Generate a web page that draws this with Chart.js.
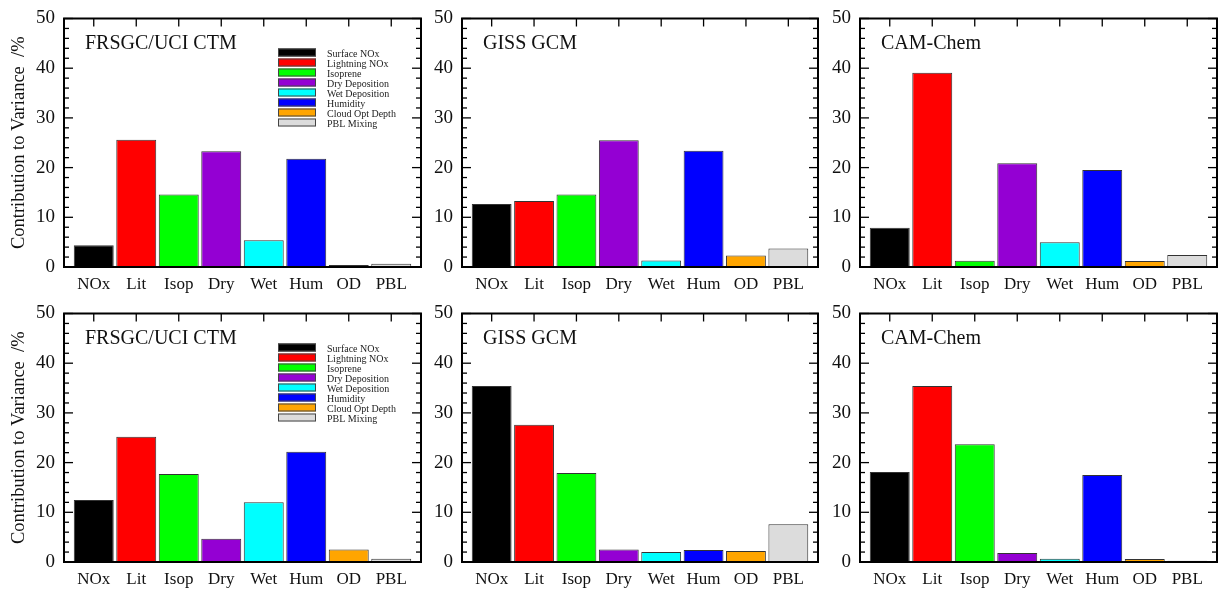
<!DOCTYPE html>
<html>
<head>
<meta charset="utf-8">
<script src="https://cdn.jsdelivr.net/npm/chart.js@4.4.0/dist/chart.umd.min.js"></script>
<style>
  html, body { margin: 0; padding: 0; background: #fff; }
  #wrap { position: relative; width: 1220px; height: 590px; }
  canvas { position: absolute; }
</style>
</head>
<body>
<div id="wrap">
  <canvas id="c1" width="424" height="295" style="left:0;top:0"></canvas>
  <canvas id="c2" width="400" height="295" style="left:422px;top:0"></canvas>
  <canvas id="c3" width="400" height="295" style="left:820px;top:0"></canvas>
  <canvas id="c4" width="424" height="295" style="left:0;top:295px"></canvas>
  <canvas id="c5" width="400" height="295" style="left:422px;top:295px"></canvas>
  <canvas id="c6" width="400" height="295" style="left:820px;top:295px"></canvas>
</div>
<script>
// categories and legend
const categories = ["NOx", "Lit", "Isop", "Dry", "Wet", "Hum", "OD", "PBL"];
const legendLabels = ["Surface NOx", "Lightning NOx", "Isoprene", "Dry Deposition",
  "Wet Deposition", "Humidity", "Cloud Opt Depth", "PBL Mixing"];
const barColors = ["#000000", "#ff0000", "#00ff00", "#9400d3", "#00ffff", "#0000ff", "#ffa500", "#dcdcdc"];

// contribution to variance (%) - top row
const frsgcTop = [4.4, 25.6, 14.6, 23.3, 5.4, 21.8, 0.4, 0.65];
const gissTop = [12.7, 13.3, 14.6, 25.5, 1.3, 23.4, 2.3, 3.7];
const camTop = [7.9, 39.1, 1.25, 20.9, 5.0, 19.5, 1.2, 2.4];
// bottom row
const frsgcBottom = [12.5, 25.2, 17.7, 4.7, 12.0, 22.2, 2.5, 0.65];
const gissBottom = [35.4, 27.6, 17.9, 2.5, 2.0, 2.4, 2.2, 7.6];
const camBottom = [18.1, 35.4, 23.7, 1.8, 0.65, 17.5, 0.6, 0.25];

const yTitle = "Contribution to Variance  /%";
const SERIF = '"Liberation Serif", "Times New Roman", serif';

// frame, inward ticks, panel name and legend
const framePlugin = {
  id: "frame",
  afterDatasetsDraw(chart, args, opts) {
    const { ctx, chartArea: a, scales } = chart;
    const x = scales.x, y = scales.y;
    const line = (x1, y1, x2, y2) => {
      ctx.beginPath(); ctx.moveTo(x1, y1); ctx.lineTo(x2, y2); ctx.stroke();
    };
    ctx.save();
    ctx.strokeStyle = "#000";
    ctx.lineWidth = 1.3;
    for (let v = 0; v <= 50; v += 2) {
      const py = y.getPixelForValue(v);
      const len = v % 10 === 0 ? 9 : 5;
      line(a.left, py, a.left + len, py);
      line(a.right, py, a.right - len, py);
    }
    for (let i = 0; i < categories.length; i++) {
      const px = x.getPixelForValue(i);
      line(px, a.top, px, a.top + 8);
    }
    ctx.lineWidth = 2;
    ctx.strokeRect(a.left, a.top, a.right - a.left, a.bottom - a.top);

    ctx.fillStyle = "#111";
    ctx.textBaseline = "alphabetic";
    ctx.font = "20px " + SERIF;
    ctx.fillText(opts.name, a.left + 21, a.top + 30);

    if (opts.legend) {
      ctx.font = "10px " + SERIF;
      ctx.lineWidth = 1;
      ctx.strokeStyle = "#444";
      legendLabels.forEach((lab, i) => {
        const by = a.top + 30 + i * 10;
        ctx.fillStyle = barColors[i];
        ctx.fillRect(a.left + 214, by, 38, 8);
        ctx.strokeRect(a.left + 214.5, by + 0.5, 37, 7);
        ctx.fillStyle = "#222";
        ctx.fillText(lab, a.left + 263, by + 8);
      });
    }
    ctx.restore();
  }
};

function makePanel(id, name, values, first, rightPad) {
  new Chart(document.getElementById(id), {
    type: "bar",
    data: {
      datasets: [{
        data: values.map((v, i) => ({ x: i, y: v })),
        backgroundColor: barColors,
        borderColor: "#333",
        borderWidth: 1,
        barPercentage: 0.94,
        categoryPercentage: 1
      }]
    },
    options: {
      responsive: false,
      animation: false,
      layout: { padding: { top: 12, right: rightPad, left: 0, bottom: 0 } },
      plugins: {
        legend: { display: false },
        tooltip: { enabled: false },
        frame: { name: name, legend: first }
      },
      scales: {
        x: {
          type: "linear",
          offset: false,
          min: -0.7,
          max: 7.7,
          grid: { display: false, drawTicks: false },
          border: { display: false },
          afterBuildTicks: (scale) => {
            scale.ticks = categories.map((c, i) => ({ value: i }));
          },
          afterFit: (scale) => { scale.height = 28; },
          ticks: {
            autoSkip: false,
            maxRotation: 0,
            padding: 7,
            color: "#111",
            font: { family: SERIF, size: 17 },
            callback: (v) => categories[v]
          }
        },
        y: {
          min: 0,
          max: 50,
          grid: { display: false, drawTicks: false },
          border: { display: false },
          afterFit: (scale) => { scale.width = first ? 64 : 40; },
          ticks: {
            stepSize: 10,
            padding: 9,
            color: "#111",
            font: { family: SERIF, size: 19, lineHeight: 1 }
          },
          title: {
            display: first,
            text: yTitle,
            color: "#111",
            padding: { top: 8, bottom: 0 },
            font: { family: SERIF, size: 18.5 }
          }
        }
      }
    },
    plugins: [framePlugin]
  });
}

makePanel("c1", "FRSGC/UCI CTM", frsgcTop, true, 3);
makePanel("c2", "GISS GCM", gissTop, false, 4);
makePanel("c3", "CAM-Chem", camTop, false, 3);
makePanel("c4", "FRSGC/UCI CTM", frsgcBottom, true, 3);
makePanel("c5", "GISS GCM", gissBottom, false, 4);
makePanel("c6", "CAM-Chem", camBottom, false, 3);
</script>
</body>
</html>
